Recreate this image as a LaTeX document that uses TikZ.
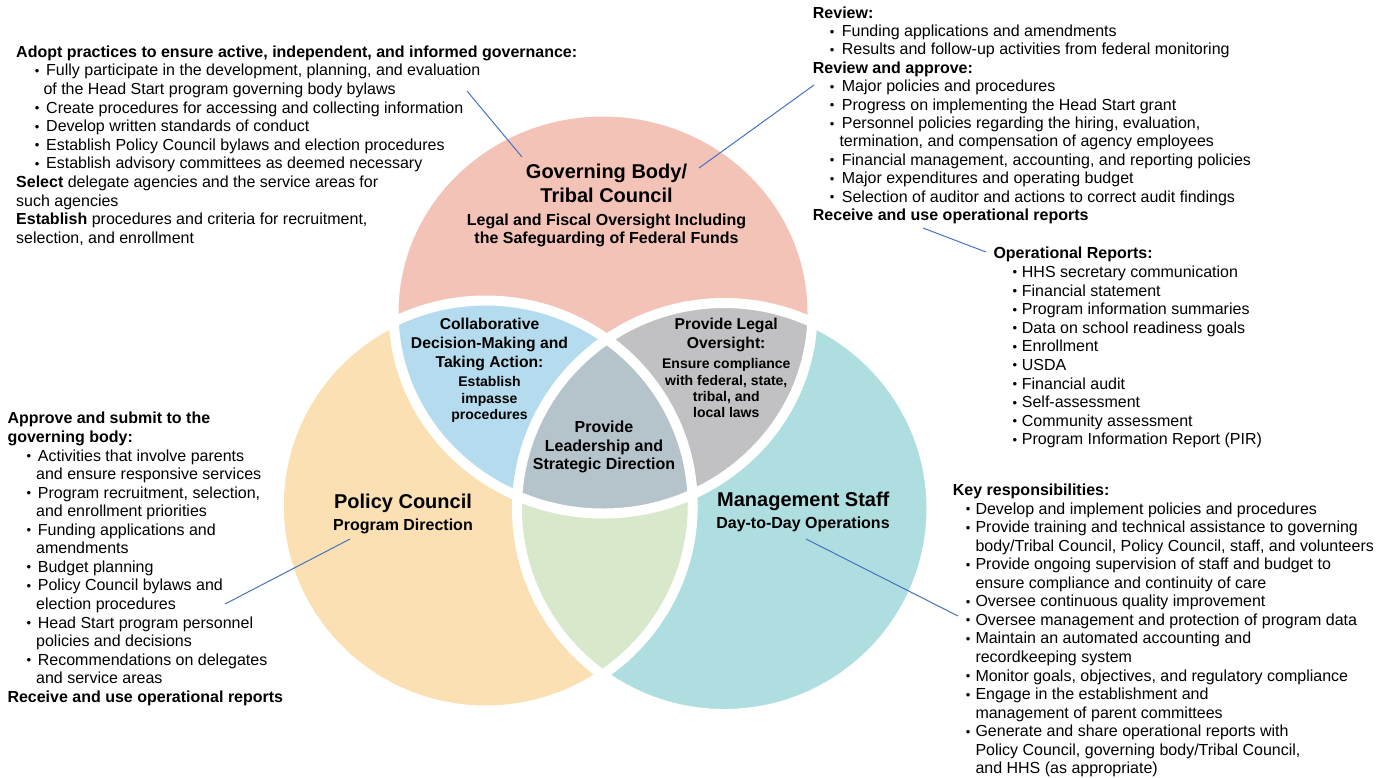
\documentclass[tikz,border=0pt]{standalone}
\usepackage{fontspec}
\setmainfont{Liberation Sans}
\definecolor{pinkC}{HTML}{F4C3B8}
\definecolor{peachC}{HTML}{FAE0B2}
\definecolor{tealC}{HTML}{AFDEE1}
\definecolor{blueC}{HTML}{B4DCEE}
\definecolor{grayC}{HTML}{C1C1C3}
\definecolor{slateC}{HTML}{B5C3CB}
\definecolor{greenC}{HTML}{D8E8CA}
\definecolor{lineC}{HTML}{4472C4}
\newcommand{\pbul}[2]{\hspace*{#1pt}\makebox[#2pt][l]{\raisebox{0.5pt}{\fontsize{13}{13}\selectfont •}}}
\begin{document}
\begin{tikzpicture}[x=1pt,y=-1pt,
  blk/.style={anchor=base west,inner sep=0pt,align=left,font=\fontsize{16}{18.55}\selectfont},
  ttl/.style={anchor=base,inner sep=0pt,align=center,font=\bfseries\fontsize{20}{23.3}\selectfont},
  sub/.style={anchor=base,inner sep=0pt,align=center,font=\bfseries\fontsize{16}{17.7}\selectfont},
  mid/.style={anchor=base,inner sep=0pt,align=center,font=\bfseries\fontsize{15.7}{18.85}\selectfont},
  sml/.style={anchor=base,inner sep=0pt,align=center,font=\bfseries\fontsize{14}{16.3}\selectfont},
  ctr/.style={anchor=base,inner sep=0pt,align=center,font=\bfseries\fontsize{16}{18.5}\selectfont},
  conn/.style={draw=lineC,line width=1pt},
  gap/.style={draw=white,line width=10pt}]
\useasboundingbox (0,0) rectangle (1380,777);
% circles
\fill[pinkC] (603,312.5) ellipse [x radius=209.5,y radius=201];
\fill[peachC] (485.75,505.5) ellipse [x radius=207,y radius=205];
\fill[tealC] (724.25,508.5) ellipse [x radius=207.25,y radius=205.5];
\begin{scope}
\clip (603,312.5) ellipse [x radius=209.5,y radius=201];
\fill[blueC] (485.75,505.5) ellipse [x radius=207,y radius=205];
\fill[grayC] (724.25,508.5) ellipse [x radius=207.25,y radius=205.5];
\end{scope}
\begin{scope}
\clip (485.75,505.5) ellipse [x radius=207,y radius=205];
\fill[greenC] (724.25,508.5) ellipse [x radius=207.25,y radius=205.5];
\end{scope}
\begin{scope}
\clip (603,312.5) ellipse [x radius=209.5,y radius=201];
\clip (485.75,505.5) ellipse [x radius=207,y radius=205];
\fill[slateC] (724.25,508.5) ellipse [x radius=207.25,y radius=205.5];
\end{scope}
\draw[gap] (603,312.5) ellipse [x radius=209.5,y radius=201];
\draw[gap] (485.75,505.5) ellipse [x radius=207,y radius=205];
\draw[gap] (724.25,508.5) ellipse [x radius=207.25,y radius=205.5];
% circle texts (anchor = baseline of last line)
\node[ttl] (gbt) at (606.5,202) {Governing Body/\\Tribal Council};
\node[sub] (gbs) at (606.5,243.2) {Legal and Fiscal Oversight Including\\the Safeguarding of Federal Funds};
\node[ttl] (pct) at (403,508.7) {Policy Council};
\node[sub] (pcs) at (403,530.5) {Program Direction};
\node[ttl] (mst) at (803.3,506) {Management Staff};
\node[sub] (mss) at (803,528.2) {Day-to-Day Operations};
\node[mid] (cdt) at (489.5,367.2) {Collaborative\\Decision-Making and\\Taking Action:};
\node[sml] (cds) at (489.5,419.3) {Establish\\impasse\\procedures};
\node[mid] (plt) at (726.2,348.35) {Provide Legal\\Oversight:};
\node[sml] (pls) at (726.3,417.8) {Ensure compliance\\with federal, state,\\tribal, and\\local laws};
\node[ctr] (cen) at (604,469.8) {Provide\\Leadership and\\Strategic Direction};
% text blocks (anchor = baseline of last line)
\node[blk,font=\fontsize{16}{18.6}\selectfont] (blA) at (16,243.2) {\textbf{Adopt practices to ensure active, independent, and informed governance:}\\
\pbul{18.7}{11.3}Fully participate in the development, planning, and evaluation\\
\hspace*{27.3pt}of the Head Start program governing body bylaws\\
\pbul{18.7}{11.3}Create procedures for accessing and collecting information\\
\pbul{18.7}{11.3}Develop written standards of conduct\\
\pbul{18.7}{11.3}Establish Policy Council bylaws and election procedures\\
\pbul{18.7}{11.3}Establish advisory committees as deemed necessary\\
\textbf{Select} delegate agencies and the service areas for\\
such agencies\\
\textbf{Establish} procedures and criteria for recruitment,\\
selection, and enrollment};
\node[blk,font=\fontsize{16}{18.4}\selectfont] (blB) at (812.7,220.5) {\textbf{Review:}\\
\pbul{17}{12}Funding applications and amendments\\
\pbul{17}{12}Results and follow-up activities from federal monitoring\\
\textbf{Review and approve:}\\
\pbul{17}{12}Major policies and procedures\\
\pbul{17}{12}Progress on implementing the Head Start grant\\
\pbul{17}{12}Personnel policies regarding the hiring, evaluation,\\
\hspace*{26.6pt}termination, and compensation of agency employees\\
\pbul{17}{12}Financial management, accounting, and reporting policies\\
\pbul{17}{12}Major expenditures and operating budget\\
\pbul{17}{12}Selection of auditor and actions to correct audit findings\\
\textbf{Receive and use operational reports}};
\node[blk,font=\fontsize{16}{18.6}\selectfont] (blC) at (993.3,444.8) {\textbf{Operational Reports:}\\
\pbul{19}{9.4}HHS secretary communication\\
\pbul{19}{9.4}Financial statement\\
\pbul{19}{9.4}Program information summaries\\
\pbul{19}{9.4}Data on school readiness goals\\
\pbul{19}{9.4}Enrollment\\
\pbul{19}{9.4}USDA\\
\pbul{19}{9.4}Financial audit\\
\pbul{19}{9.4}Self-assessment\\
\pbul{19}{9.4}Community assessment\\
\pbul{19}{9.4}Program Information Report (PIR)};
\node[blk] (blD) at (952.7,773.8) {\textbf{Key responsibilities:}\\
\pbul{13}{9.6}Develop and implement policies and procedures\\
\pbul{13}{9.6}Provide training and technical assistance to governing\\
\hspace*{22.6pt}body/Tribal Council, Policy Council, staff, and volunteers\\
\pbul{13}{9.6}Provide ongoing supervision of staff and budget to\\
\hspace*{22.6pt}ensure compliance and continuity of care\\
\pbul{13}{9.6}Oversee continuous quality improvement\\
\pbul{13}{9.6}Oversee management and protection of program data\\
\pbul{13}{9.6}Maintain an automated accounting and\\
\hspace*{22.6pt}recordkeeping system\\
\pbul{13}{9.6}Monitor goals, objectives, and regulatory compliance\\
\pbul{13}{9.6}Engage in the establishment and\\
\hspace*{22.6pt}management of parent committees\\
\pbul{13}{9.6}Generate and share operational reports with\\
\hspace*{22.6pt}Policy Council, governing body/Tribal Council,\\
\hspace*{22.6pt}and HHS (as appropriate)};
\node[blk] (blE) at (7.3,702.2) {\textbf{Approve and submit to the}\\
\textbf{governing body:}\\
\pbul{19}{11.4}Activities that involve parents\\
\hspace*{28.7pt}and ensure responsive services\\
\pbul{19}{11.4}Program recruitment, selection,\\
\hspace*{28.7pt}and enrollment priorities\\
\pbul{19}{11.4}Funding applications and\\
\hspace*{28.7pt}amendments\\
\pbul{19}{11.4}Budget planning\\
\pbul{19}{11.4}Policy Council bylaws and\\
\hspace*{28.7pt}election procedures\\
\pbul{19}{11.4}Head Start program personnel\\
\hspace*{28.7pt}policies and decisions\\
\pbul{19}{11.4}Recommendations on delegates\\
\hspace*{28.7pt}and service areas\\
\textbf{Receive and use operational reports}};
% connectors
\coordinate (a1) at (467,91); \coordinate (a2) at (522,157);
\coordinate (b1) at (814,85); \coordinate (b2) at (699,168);
\coordinate (c1) at (923,228); \coordinate (c2) at (986,252);
\coordinate (d1) at (350,539); \coordinate (d2) at (225,604);
\coordinate (e1) at (806,539); \coordinate (e2) at (958,616);
\draw[conn] (a1) -- (a2);
\draw[conn] (b1) -- (b2);
\draw[conn] (c1) -- (c2);
\draw[conn] (d1) -- (d2);
\draw[conn] (e1) -- (e2);
\end{tikzpicture}
\end{document}
